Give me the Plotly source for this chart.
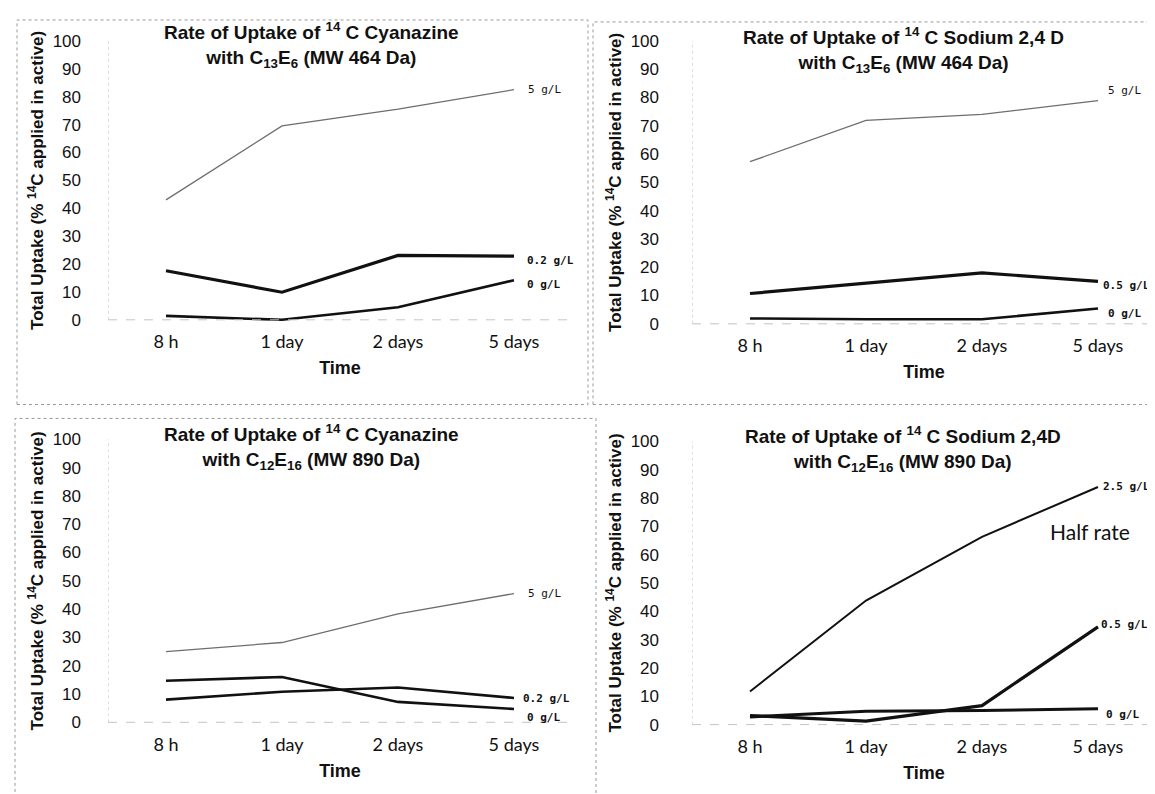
import plotly.graph_objects as go

W, H = 1155, 794

# ---------------- data ----------------
time_labels = ["8 h", "1 day", "2 days", "5 days"]

p1_title = "Rate of Uptake of <sup>14</sup> C Cyanazine<br>with C<sub>13</sub>E<sub>6</sub> (MW 464 Da)"
p1_names = ["5 g/L", "0.2 g/L", "0 g/L"]
p1_5 = [43, 69.5, 75.5, 82.5]
p1_02 = [17.6, 9.9, 23.1, 22.8]
p1_0 = [1.4, 0.0, 4.5, 14.2]

p2_title = "Rate of Uptake of <sup>14</sup> C Sodium 2,4 D<br>with C<sub>13</sub>E<sub>6</sub> (MW 464 Da)"
p2_names = ["5 g/L", "0.5 g/L", "0 g/L"]
p2_5 = [57.3, 71.9, 74.0, 78.9]
p2_05 = [10.7, 14.3, 18.0, 15.0]
p2_0 = [1.9, 1.6, 1.6, 5.4]

p3_title = "Rate of Uptake of <sup>14</sup> C Cyanazine<br>with C<sub>12</sub>E<sub>16</sub> (MW 890 Da)"
p3_names = ["5 g/L", "0.2 g/L", "0 g/L"]
p3_5 = [25.0, 28.2, 38.3, 45.5]
p3_02 = [8.0, 10.8, 12.3, 8.6]
p3_0 = [14.7, 16.0, 7.2, 4.7]

p4_title = "Rate of Uptake of <sup>14</sup> C Sodium 2,4D<br>with C<sub>12</sub>E<sub>16</sub> (MW 890 Da)"
p4_names = ["2.5 g/L", "0.5 g/L", "0 g/L"]
p4_25 = [11.7, 43.8, 66.3, 83.9]
p4_05 = [3.2, 1.2, 6.7, 34.5]
p4_0 = [2.7, 4.7, 5.0, 5.6]

y_ticks = list(range(0, 101, 10))
y_title = "Total Uptake (% <sup>14</sup>C applied in active)"
x_title = "Time"
note_text = "Half rate"

# ---------------- layout geometry (pixels) ----------------
panels = [
    dict(title=p1_title, series=[p1_5, p1_02, p1_0], names=p1_names,
         x0=100, x1=564, y0=312, y100=32, tx=303, ty=36, ystand=26,
         styles=[("#6e6e6e", 1.3), ("#111111", 3.2), ("#111111", 2.6)],
         lab=[(12, 0, False), (11, -4, True), (11, -4, True)]),
    dict(title=p2_title, series=[p2_5, p2_05, p2_0], names=p2_names,
         x0=684, x1=1148, y0=316, y100=32, tx=895, ty=41, ystand=32,
         styles=[("#6e6e6e", 1.3), ("#111111", 3.2), ("#111111", 2.6)],
         lab=[(8, 10, False), (3, -4, True), (8, -5, True)]),
    dict(title=p3_title, series=[p3_5, p3_02, p3_0], names=p3_names,
         x0=100, x1=564, y0=716, y100=432, tx=303, ty=440, ystand=26,
         styles=[("#6e6e6e", 1.3), ("#111111", 2.6), ("#111111", 2.6)],
         lab=[(12, 0, False), (7, -1, True), (11, -9, True)]),
    dict(title=p4_title, series=[p4_25, p4_05, p4_0], names=p4_names,
         x0=684, x1=1148, y0=718.3, y100=434, tx=895, ty=442, ystand=32,
         styles=[("#111111", 2.0), ("#111111", 3.2), ("#111111", 3.0)],
         lab=[(3, 0, True), (1, 2, True), (6, -6, True)]),
]

PAD = 3  # data units beyond 0..100

fig = go.Figure()
annotations = []
shapes = []

for i, p in enumerate(panels):
    k = "" if i == 0 else str(i + 1)
    xa, ya = "xaxis" + k, "yaxis" + k
    xr, yr = "x" + k, "y" + k
    ppu = (p["y0"] - p["y100"]) / 100.0
    ybot = p["y0"] + PAD * ppu
    ytop = p["y100"] - PAD * ppu

    for s, nm, (col, wd) in zip(p["series"], p["names"], p["styles"]):
        fig.add_trace(go.Scatter(x=time_labels, y=s, mode="lines", name=nm,
                                 line=dict(color=col, width=wd),
                                 xaxis=xr, yaxis=yr, showlegend=False,
                                 hoverinfo="skip"))

    fig.layout[xa] = dict(
        domain=[p["x0"] / W, p["x1"] / W], anchor=yr,
        type="category", categoryorder="array", categoryarray=time_labels,
        range=[-0.5, 3.5], showgrid=False, zeroline=False, showline=False,
        ticks="", ticklabelstandoff=1,
        tickfont=dict(family="Lato, Carlito, sans-serif", size=18, color="#111"),
        title=dict(text="<b>" + x_title + "</b>", standoff=10,
                   font=dict(family="Liberation Sans, Arial, sans-serif", size=18, color="#111")),
        fixedrange=True,
    )
    fig.layout[ya] = dict(
        domain=[1 - ybot / H, 1 - ytop / H], anchor=xr,
        range=[-PAD, 100 + PAD], tickvals=y_ticks,
        showgrid=False, zeroline=False, showline=False, ticks="",
        ticklabelstandoff=p["ystand"],
        tickfont=dict(family="Liberation Sans, Arial, sans-serif", size=17, color="#111"),
        title=dict(text="<b>" + y_title + "</b>", standoff=4,
                   font=dict(family="Liberation Sans, Arial, sans-serif", size=17, color="#111")),
        fixedrange=True,
    )

    # faint dotted axis lines like the scan
    shapes.append(dict(type="line", xref=xr, yref=yr, x0=-0.5, x1=-0.5, y0=0, y1=100,
                       line=dict(color="#bdbdbd", width=1, dash="dot")))
    shapes.append(dict(type="line", xref=xr, yref=yr, x0=-0.5, x1=3.5, y0=0, y1=0,
                       line=dict(color="#c4c4c4", width=1, dash="dash")))

    # title
    annotations.append(dict(text="<b>" + p["title"] + "</b>", xref="paper", yref="paper",
                            x=p["tx"] / W, y=1 - p["ty"] / H, showarrow=False,
                            xanchor="center", yanchor="middle", align="center",
                            font=dict(family="Liberation Sans, Arial, sans-serif", size=19, color="#111")))

    # series labels at the end of each line
    for s, nm, (dx, dy, bold) in zip(p["series"], p["names"], p["lab"]):
        annotations.append(dict(text=("<b>%s</b>" % nm) if bold else nm,
                                xref=xr, yref=yr, x=time_labels[-1], y=s[-1],
                                xshift=dx, yshift=dy, showarrow=False,
                                xanchor="left", yanchor="middle",
                                font=dict(family="DejaVu Sans Mono, monospace", size=11, color="#111")))

# "Half rate" note in panel 4
annotations.append(dict(text=note_text, xref="x4", yref="y4", x=time_labels[-1], y=68,
                        xshift=-8, showarrow=False, xanchor="center", yanchor="middle",
                        font=dict(family="Lato, Carlito, sans-serif", size=21, color="#111")))

# faint panel frames from the scan
frames = [(9, 11, 580, 397), (585, 13, 1152, 397), (7, 411, 588, 794)]
for (a, b, c, d) in frames:
    shapes.append(dict(type="rect", xref="paper", yref="paper",
                       x0=a / W, x1=c / W, y0=1 - d / H, y1=1 - b / H,
                       line=dict(color="#9a9a9a", width=1, dash="dot")))

fig.update_layout(width=W, height=H, margin=dict(l=0, r=0, t=0, b=0),
                  paper_bgcolor="white", plot_bgcolor="rgba(0,0,0,0)",
                  annotations=annotations, shapes=shapes, showlegend=False)

fig.write_html("out.html")
